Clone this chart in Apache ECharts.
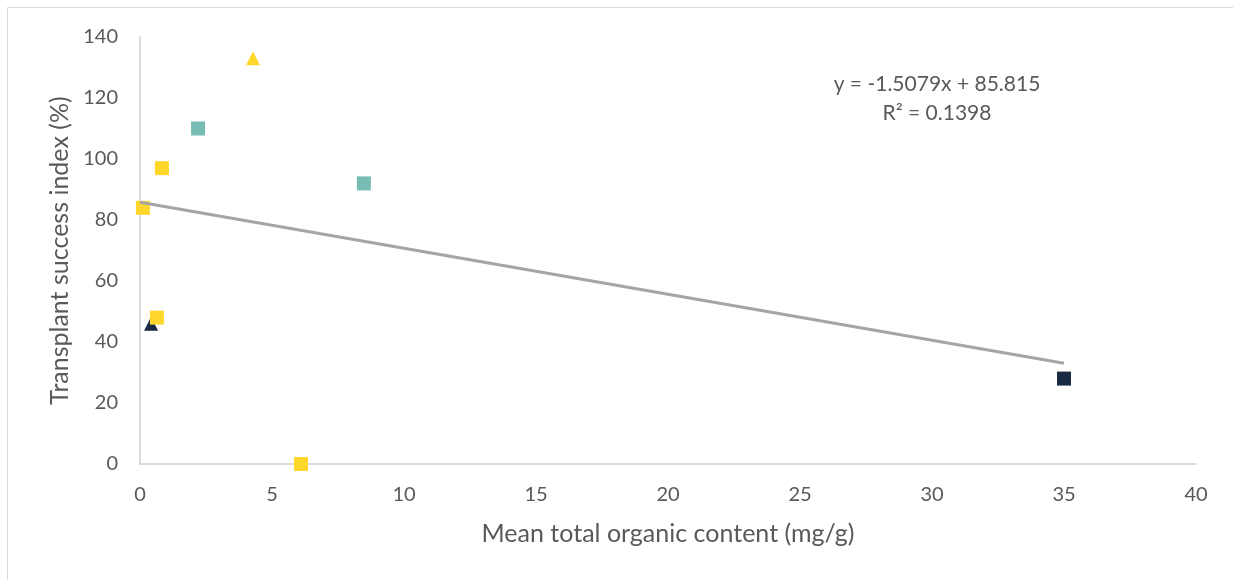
<!DOCTYPE html>
<html><head><meta charset="utf-8">
<script src="https://cdn.jsdelivr.net/npm/echarts@6/dist/echarts.min.js"></script>
<style>html,body{margin:0;padding:0;background:#fff}#c{width:1233px;height:580px}</style>
</head><body><div id="c"></div>
<script>
const xTicks = [0, 5, 10, 15, 20, 25, 30, 35, 40];
const yTicks = [0, 20, 40, 60, 80, 100, 120, 140];
const navyTriangles = [[0.42, 46]];
const yellowSquares = [[0.11, 84], [0.83, 97], [0.64, 48], [6.1, 0]];
const yellowTriangles = [[4.28, 133]];
const tealSquares = [[2.2, 110], [8.48, 92]];
const navySquares = [[35.0, 28]];
const trendSlope = -1.5079;
const trendIntercept = 85.815;
const trendRange = [0, 35];
const eqText = 'y = -1.5079x + 85.815';
const r2Text = 'R² = 0.1398';

const font = 'Lato, "Open Sans", sans-serif';
const chart = echarts.init(document.getElementById('c'));
const trend = trendRange.map(x => [x, trendSlope * x + trendIntercept]);
const mk = (name, data, symbol, color, size) => ({
  name, type: 'scatter', data, symbol, symbolSize: size,
  itemStyle: { color, opacity: 1 }, z: 3
});
chart.setOption({
  animation: false,
  graphic: [{
    type: 'rect', shape: { x: 7.5, y: 7.5, width: 1400, height: 800 },
    style: { fill: 'none', stroke: '#D9D9D9', lineWidth: 1 }, silent: true, z: -10
  }, {
    type: 'text', x: 937, y: 70,
    style: { text: eqText + '\n' + r2Text, fill: '#595959', font: '21px ' + font, textAlign: 'center', lineHeight: 29 }
  }],
  grid: { left: 140, right: 37, top: 37, bottom: 116 },
  xAxis: {
    type: 'value', min: xTicks[0], max: xTicks[xTicks.length - 1], interval: 5,
    name: 'Mean total organic content (mg/g)', nameLocation: 'middle', nameGap: 57,
    nameTextStyle: { color: '#595959', fontSize: 25, fontFamily: font },
    axisLine: { lineStyle: { color: '#D0D0D0', width: 1.5 } },
    axisTick: { show: false }, splitLine: { show: false },
    axisLabel: { color: '#595959', fontSize: 20, fontFamily: font, margin: 21 }
  },
  yAxis: {
    type: 'value', min: yTicks[0], max: yTicks[yTicks.length - 1], interval: 20,
    name: 'Transplant success index (%)', nameLocation: 'middle', nameGap: 65,
    nameTextStyle: { color: '#595959', fontSize: 25, fontFamily: font },
    axisLine: { show: true, lineStyle: { color: '#D0D0D0', width: 1.5 } },
    axisTick: { show: false }, splitLine: { show: false },
    axisLabel: { color: '#595959', fontSize: 20, fontFamily: font, margin: 22 }
  },
  series: [
    mk('navyTri', navyTriangles, 'triangle', '#1B2A44', 14),
    mk('yellowSq', yellowSquares, 'rect', '#FFD72A', 14),
    mk('yellowTri', yellowTriangles, 'triangle', '#FFD72A', 14),
    mk('tealSq', tealSquares, 'rect', '#78BDB3', 14),
    mk('navySq', navySquares, 'rect', '#1B2A44', 14),
    { name: 'trend', type: 'line', data: trend, symbol: 'none', z: 5,
      lineStyle: { color: '#A5A5A5', width: 3 } }
  ]
});
</script></body></html>
